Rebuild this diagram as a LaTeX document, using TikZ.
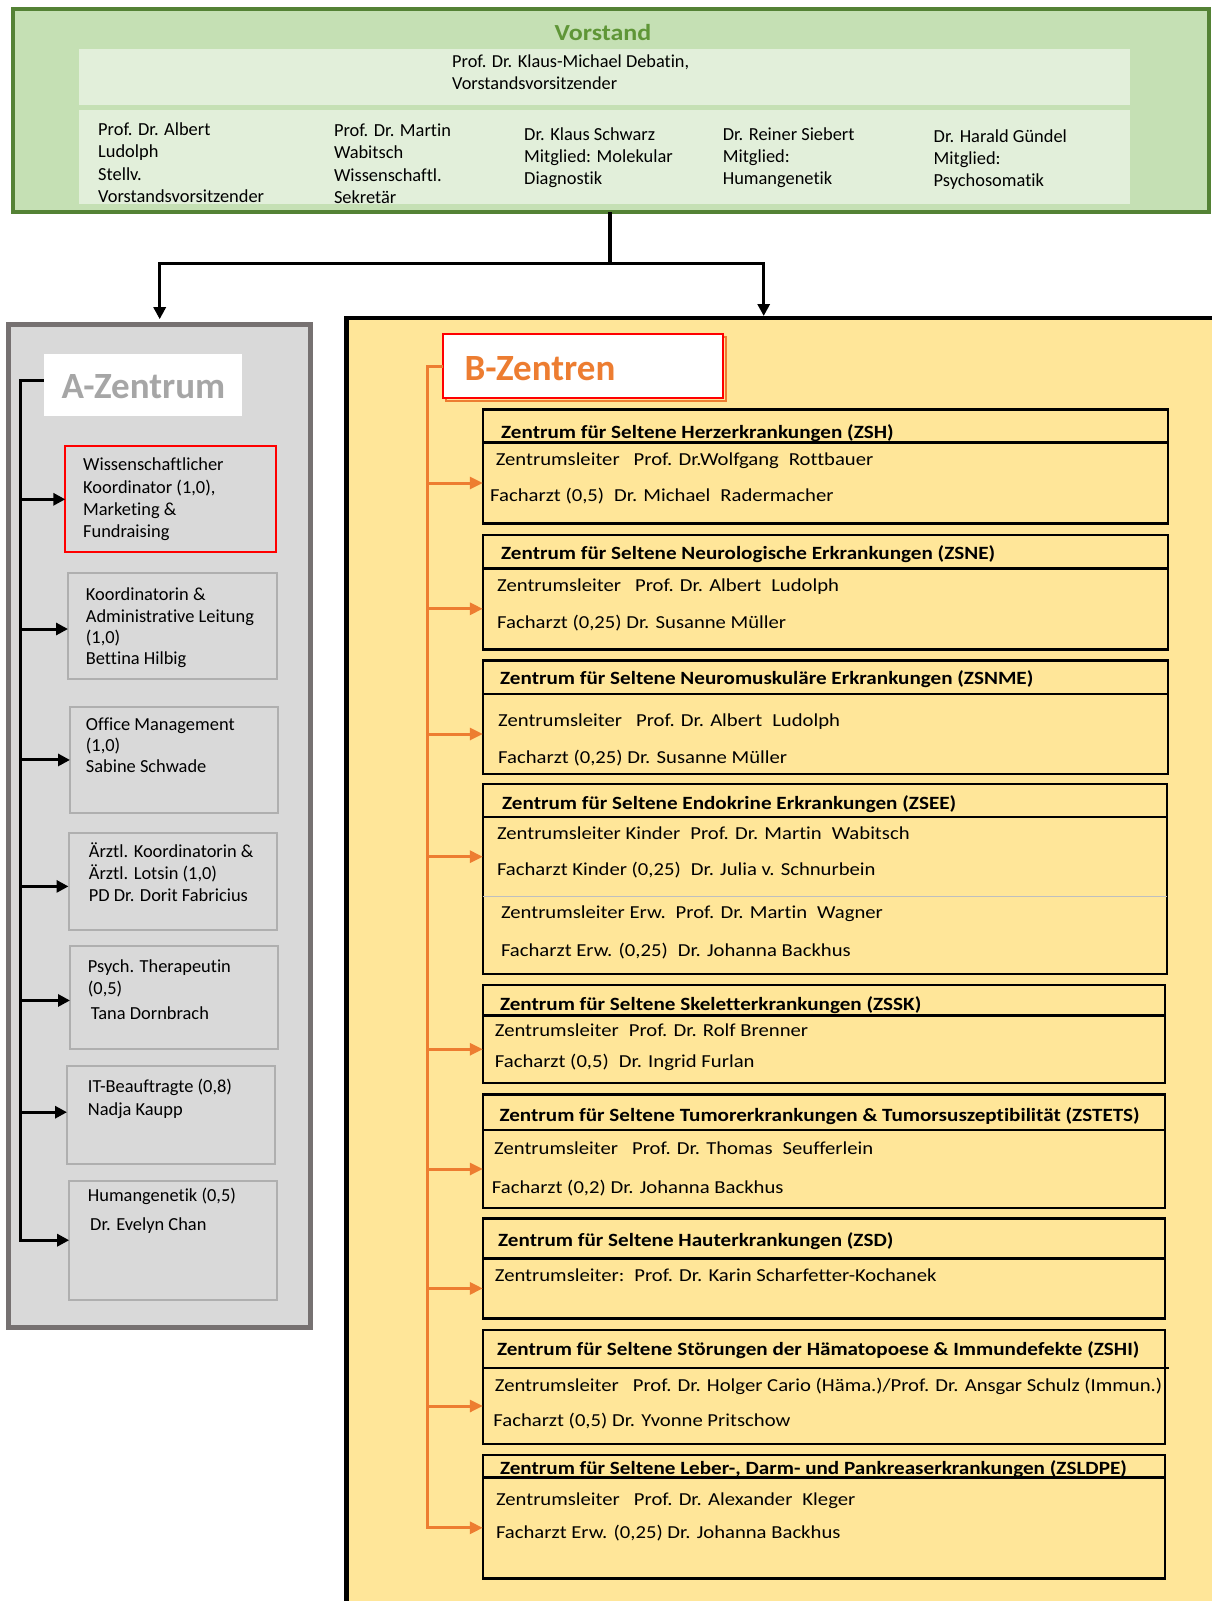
\documentclass[tikz,border=0pt]{standalone}
\usepackage{fontspec}
\setmainfont{Carlito}[Ligatures=NoCommon]
\newfontfamily\wide{Carlito}[FakeStretch=1.13,Ligatures=NoCommon]
\usetikzlibrary{arrows.meta,calc}
\definecolor{vfill}{RGB}{197,224,180}
\definecolor{vband}{RGB}{226,239,218}
\definecolor{vborder}{RGB}{84,130,53}
\definecolor{vtitle}{RGB}{95,150,55}
\definecolor{agfill}{RGB}{217,217,217}
\definecolor{agborder}{RGB}{118,113,113}
\definecolor{asub}{RGB}{175,175,175}
\definecolor{atitletxt}{RGB}{166,166,166}
\definecolor{byellow}{RGB}{255,230,153}
\definecolor{borange}{RGB}{237,125,49}
\newcommand\fst{\rule{0pt}{16pt}}
\newcommand\gapw{\hspace{14pt}}
\newcommand\gapn{\hspace{10pt}}
\tikzset{
  box/.style={anchor=north west, inner sep=0pt, outer sep=0pt},
  conn/.style={line width=3.5pt, black},
  carr/.style={line width=3pt, black, -{Triangle[length=12pt,width=12pt]}},
  oconn/.style={line width=3pt, borange},
  oarr/.style={line width=3pt, borange, -{Triangle[length=13pt,width=12pt]}},
  vtext/.style={font=\fontsize{18.4}{22.2}\selectfont, anchor=north west, inner sep=0pt, align=left},
  atext/.style={anchor=north west, inner sep=0pt, align=left},
  abox/.style={box, draw=asub, line width=2pt},
  bbox/.style={box, draw=black, line width=2.5pt},
  btxt/.style={font=\wide\fontsize{18.3}{22}\selectfont, anchor=base west, inner sep=0pt},
  bttl/.style={font=\wide\bfseries\fontsize{18.7}{22}\selectfont, anchor=base west, inner sep=0pt},
}
\begin{document}
\begin{tikzpicture}[x=1pt,y=-1pt]
\useasboundingbox (0,0) rectangle (1212,1601);

% ---------------- Vorstand ----------------
\node[box, draw=vborder, line width=4pt, fill=vfill, minimum width=1196pt, minimum height=203pt] (vorstand) at (13,9) {};
\node[box, fill=vband, minimum width=1051pt, minimum height=55.7pt] (vband1) at (79,49.3) {};
\node[box, fill=vband, minimum width=1051pt, minimum height=94pt] (vband2) at (79,110) {};
\node[font=\wide\bfseries\fontsize{23}{27}\selectfont, text=vtitle, anchor=base, inner sep=0pt] (vtitle) at (603,40.7) {Vorstand};
\node[vtext, font=\fontsize{18.3}{21.7}\selectfont] (vchair) at (452,51.7) {\fst Prof. Dr. Klaus-Michael Debatin,\\ Vorstandsvorsitzender};
\node[vtext] (vm1) at (98,119.5) {\fst Prof. Dr. Albert\\ Ludolph\\ Stellv.\\ Vorstandsvorsitzender};
\node[vtext] (vm2) at (333.8,120.5) {\fst Prof. Dr. Martin\\ Wabitsch\\ Wissenschaftl.\\ Sekretär};
\node[vtext] (vm3) at (524,124) {\fst Dr. Klaus Schwarz\\ Mitglied: Molekular\\ Diagnostik};
\node[vtext] (vm4) at (722.6,124) {\fst Dr. Reiner Siebert\\ Mitglied:\\ Humangenetik};
\node[vtext] (vm5) at (933.5,126) {\fst Dr. Harald Gündel\\ Mitglied:\\ Psychosomatik};

% ---------------- A-Zentrum ----------------
\node[box, draw=agborder, line width=5pt, fill=agfill, minimum width=302pt, minimum height=1003pt] (azentrum) at (8.7,324.2) {};
\node[box, fill=white, minimum width=198pt, minimum height=61.5pt] (atitle) at (43.9,354.3) {};
\node[font=\bfseries\fontsize{37}{40}\selectfont, text=atitletxt, anchor=base west, inner sep=0pt] (atitletext) at (61.3,398) {A-Zentrum};

\node[box, draw=red, line width=2pt, minimum width=210.4pt, minimum height=106.2pt] (a1) at (65.3,446.2) {};
\node[abox, minimum width=209pt, minimum height=106.4pt] (a2) at (68,572.8) {};
\node[abox, minimum width=207.5pt, minimum height=106.5pt] (a3) at (70,706.7) {};
\node[abox, minimum width=208pt, minimum height=97.2pt] (a4) at (68.5,832.8) {};
\node[abox, minimum width=207.5pt, minimum height=102.5pt] (a5) at (70,946.2) {};
\node[abox, minimum width=207.5pt, minimum height=98pt] (a6) at (67,1066.2) {};
\node[abox, minimum width=207.5pt, minimum height=119pt] (a7) at (69.2,1180.7) {};

\node[atext, font=\fontsize{18.4}{22.2}\selectfont] (a1t) at (83,454.7) {\fst Wissenschaftlicher\\ Koordinator (1,0),\\ Marketing \&\\ Fundraising};
\node[atext, font=\fontsize{18.4}{21.1}\selectfont] (a2t) at (85.7,584.7) {\fst Koordinatorin \&\\ Administrative Leitung\\ (1,0)\\ Bettina Hilbig};
\node[atext, font=\fontsize{18.4}{20.8}\selectfont] (a3t) at (85.7,714.7) {\fst Office Management\\ (1,0)\\ Sabine Schwade};
\node[atext, font=\fontsize{18.4}{22}\selectfont] (a4t) at (88.7,841.7) {\fst Ärztl. Koordinatorin \&\\ Ärztl. Lotsin (1,0)\\ PD Dr. Dorit Fabricius};
\node[atext, font=\fontsize{18.4}{21.3}\selectfont] (a5t) at (87.7,956.7) {\fst Psych. Therapeutin\\ (0,5)\\[4pt] \hspace{3pt}Tana Dornbrach};
\node[atext, font=\fontsize{18.4}{22.3}\selectfont] (a6t) at (87.7,1076.7) {\fst IT-Beauftragte (0,8)\\ Nadja Kaupp};
\node[atext, font=\fontsize{18.4}{29}\selectfont] (a7t) at (87.7,1185.7) {\fst Humangenetik (0,5)\\ \hspace{2.3pt}Dr. Evelyn Chan};

% ---------------- B-Zentren ----------------
\node[box, draw=black, line width=4.5pt, fill=byellow, minimum width=900pt, minimum height=1330pt] (bzone) at (346.3,318) {};
\draw[borange, line width=2pt] (446,337) rectangle (725.5,400.8);
\node[box, fill=white, draw=red, line width=2.2pt, minimum width=279.7pt, minimum height=64pt] (bz) at (443.3,334.3) {};
\node[font=\bfseries\fontsize{37}{40}\selectfont, text=borange, anchor=base west, inner sep=0pt] (bztext) at (464.5,380) {B-Zentren};

% ZSH
\node[bbox, minimum width=685pt, minimum height=33.4pt] (h1) at (482.8,409.3) {};
\node[bbox, minimum width=685pt, minimum height=80.6pt] (b1) at (482.8,442.7) {};
\node[bttl] (t1a) at (501,438.3) {Zentrum für Seltene Herzerkrankungen (ZSH)};
\node[btxt] (t1b) at (495.6,465.7) {Zentrumsleiter\gapw Prof. Dr.Wolfgang\gapn Rottbauer};
\node[btxt] (t1c) at (490,501.7) {Facharzt (0,5)\gapn Dr. Michael\gapn Radermacher};
% ZSNE
\node[bbox, minimum width=685pt, minimum height=33.3pt] (h2) at (482.8,535) {};
\node[bbox, minimum width=685pt, minimum height=81pt] (b2) at (482.8,568.3) {};
\node[bttl] (t2a) at (501,559.3) {Zentrum für Seltene Neurologische Erkrankungen (ZSNE)};
\node[btxt] (t2b) at (497,591.7) {Zentrumsleiter\gapw Prof. Dr. Albert\gapn Ludolph};
\node[btxt] (t2c) at (497,628.3) {Facharzt (0,25) Dr. Susanne Müller};
% ZSNME
\node[bbox, minimum width=685pt, minimum height=33.4pt] (h3) at (482.8,660.6) {};
\node[bbox, minimum width=685pt, minimum height=80pt] (b3) at (482.8,694) {};
\node[bttl] (t3a) at (500,684) {Zentrum für Seltene Neuromuskuläre Erkrankungen (ZSNME)};
\node[btxt] (t3b) at (498,726.5) {Zentrumsleiter\gapw Prof. Dr. Albert\gapn Ludolph};
\node[btxt] (t3c) at (498,763.3) {Facharzt (0,25) Dr. Susanne Müller};
% ZSEE
\node[bbox, minimum width=684pt, minimum height=33pt] (h4) at (482.8,784) {};
\node[bbox, minimum width=684pt, minimum height=157pt] (b4) at (482.8,817) {};
\node[box, minimum width=684pt, minimum height=79.4pt] (b4k) at (482.8,817) {};
\draw[asub!80, line width=1.5pt] (b4k.south west) -- (b4k.south east);
\node[bttl] (t4a) at (502,809.3) {Zentrum für Seltene Endokrine Erkrankungen (ZSEE)};
\node[btxt] (t4b) at (496.8,839) {Zentrumsleiter Kinder\gapn Prof. Dr. Martin\gapn Wabitsch};
\node[btxt] (t4c) at (496.8,875) {Facharzt Kinder (0,25)\gapn Dr. Julia v. Schnurbein};
\node[btxt] (t4d) at (500.8,918.3) {Zentrumsleiter Erw.\gapn Prof. Dr. Martin\gapn Wagner};
\node[btxt] (t4e) at (500.8,956.7) {Facharzt Erw. (0,25)\gapn Dr. Johanna Backhus};
% ZSSK
\node[bbox, minimum width=682pt, minimum height=30.5pt] (h5) at (482.8,985) {};
\node[bbox, minimum width=682pt, minimum height=67.5pt] (b5) at (482.8,1015.5) {};
\node[bttl] (t5a) at (499.8,1010.7) {Zentrum für Seltene Skeletterkrankungen (ZSSK)};
\node[btxt] (t5b) at (494.7,1036.7) {Zentrumsleiter\gapn Prof. Dr. Rolf Brenner};
\node[btxt] (t5c) at (494.7,1067.7) {Facharzt (0,5)\gapn Dr. Ingrid Furlan};
% ZSTETS
\node[bbox, minimum width=682pt, minimum height=35.5pt] (h6) at (482.8,1094.5) {};
\node[bbox, minimum width=682pt, minimum height=78pt] (b6) at (482.8,1130) {};
\node[bttl] (t6a) at (499.3,1121.7) {Zentrum für Seltene Tumorerkrankungen \& Tumorsuszeptibilität (ZSTETS)};
\node[btxt] (t6b) at (494,1154) {Zentrumsleiter\gapw Prof. Dr. Thomas\gapn Seufferlein};
\node[btxt] (t6c) at (491.7,1193.3) {Facharzt (0,2) Dr. Johanna Backhus};
% ZSD
\node[bbox, minimum width=682pt, minimum height=39.7pt] (h7) at (482.8,1218.7) {};
\node[bbox, minimum width=682pt, minimum height=60pt] (b7) at (482.8,1258.4) {};
\node[bttl] (t7a) at (498,1246) {Zentrum für Seltene Hauterkrankungen (ZSD)};
\node[btxt] (t7b) at (494.7,1281.7) {Zentrumsleiter:\gapn Prof. Dr. Karin Scharfetter-Kochanek};
% ZSHI
\node[bbox, minimum width=682pt, minimum height=38pt] (h8) at (482.8,1330) {};
\node[bbox, minimum width=682pt, minimum height=76pt] (b8) at (482.8,1368) {};
\draw[black, line width=2.5pt] (b8.north east) -- ++(4,0);
\node[bttl] (t8a) at (496.8,1355) {Zentrum für Seltene Störungen der Hämatopoese \& Immundefekte (ZSHI)};
\node[btxt] (t8b) at (494.7,1391) {Zentrumsleiter\gapw Prof. Dr. Holger Cario (Häma.)/Prof. Dr. Ansgar Schulz (Immun.)};
\node[btxt] (t8c) at (493.2,1426) {Facharzt (0,5) Dr. Yvonne Pritschow};
% ZSLDPE
\node[bbox, minimum width=682pt, minimum height=22.3pt] (h9) at (482.8,1455) {};
\node[bbox, minimum width=682pt, minimum height=101pt] (b9) at (482.8,1477.3) {};
\node[bttl] (t9a) at (499.8,1474) {Zentrum für Seltene Leber-, Darm- und Pankreaserkrankungen (ZSLDPE)};
\node[btxt] (t9b) at (495.8,1505) {Zentrumsleiter\gapw Prof. Dr. Alexander\gapn Kleger};
\node[btxt] (t9c) at (495.8,1538.3) {Facharzt Erw. (0,25) Dr. Johanna Backhus};

% ---------------- connectors ----------------
\coordinate (vsplit) at (610,263.3);
\coordinate (bin) at (763.7,316);
\draw[conn] (vorstand.south -| vsplit) -- (vsplit);
\draw[carr, shorten >=5pt] (vsplit) -| (azentrum.north);
\draw[carr] (vsplit) -| (bin);

\coordinate (atop) at (20.6,380);
\coordinate (a1in) at (a1.west);
\coordinate (a2in) at ($(a2.west)+(0,3)$);
\coordinate (a3in) at (a3.west);
\coordinate (a4in) at ($(a4.west)+(0,5)$);
\coordinate (a5in) at ($(a5.west)+(0,3)$);
\coordinate (a6in) at ($(a6.west)+(0,-3)$);
\draw[carr] (atitle.west |- atop) -- (atop) |- (a7.west);
\foreach \n in {a1in,a2in,a3in,a4in,a5in,a6in} \draw[carr] (atop |- \n) -- (\n);

\coordinate (btop) at (427.8,366.3);
\draw[oarr] (bz.west) -- (btop) |- (b9.west);
\foreach \n in {b1,b2,b3,b4k,b5,b6,b7,b8} \draw[oarr] (btop |- \n.west) -- (\n.west);
\end{tikzpicture}
\end{document}
